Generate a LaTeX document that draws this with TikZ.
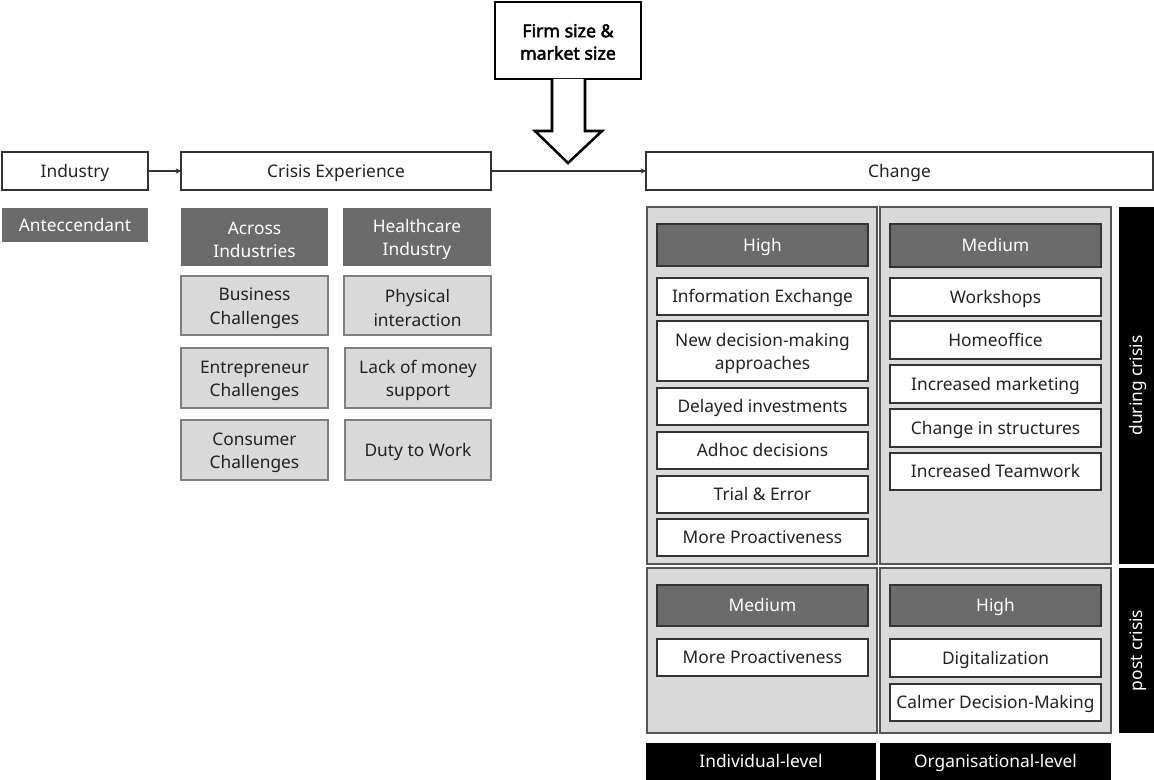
\documentclass[tikz,border=0pt]{standalone}
\usepackage{fontspec}
\setmainfont{Noto Sans}
\newfontfamily\firmfont[FakeBold=2.5]{Noto Sans}
\usetikzlibrary{arrows.meta,calc}
\definecolor{dgray}{HTML}{6B6B6B}
\definecolor{lgray}{HTML}{D9D9D9}
\definecolor{bgray}{HTML}{7F7F7F}
\definecolor{pgray}{HTML}{555555}
\definecolor{txt}{HTML}{222222}
\definecolor{edge}{HTML}{333333}
\newcommand\tp{\rule{0pt}{13.6pt}}
\newcommand\bx[7]{%
  \pgfmathsetmacro\cx{(#3+#5)/2}\pgfmathsetmacro\cy{(#4+#6)/2}%
  \pgfmathsetmacro\ww{(#5-#3)*0.75}\pgfmathsetmacro\hh{(#6-#4)*0.75}%
  \node[#2, minimum width=\ww pt, minimum height=\hh pt] (#1) at (\cx,\cy) {#7};}
\begin{document}
\begin{tikzpicture}[x=0.75pt,y=-0.75pt,
  every node/.style={inner sep=0pt,outer sep=0pt,align=center,font=\fontsize{13}{17.3}\selectfont,text=txt,
    text height=11pt,text depth=1.7pt},
  ml/.style={text height={},text depth={}},
  whitebox/.style={draw=edge,fill=white,line width=1.1pt,rectangle},
  darkbox/.style={draw=edge,fill=dgray,line width=1pt,text=white,rectangle},
  antebox/.style={fill=dgray,text=white,rectangle},
  lightbox/.style={draw=bgray,fill=lgray,line width=1.1pt,rectangle},
  panel/.style={draw=pgray,fill=lgray,line width=1.1pt,rectangle},
  blackbar/.style={fill=black,text=white,rectangle},
  firmbox/.style={draw=black,fill=white,line width=1.9pt,rectangle,font=\fontsize{13.3}{16.8}\firmfont,text=black,ml},
  conn/.style={draw=edge,line width=0.8pt,-{Stealth[length=4pt,width=4pt]}}]
\useasboundingbox (0,0) rectangle (1154,780);
% top row
\bx{industry}{whitebox}{2}{152}{148}{190}{Industry}
\bx{crisis}{whitebox}{181}{152}{491}{190}{Crisis Experience}
\bx{change}{whitebox}{646}{152}{1153}{190}{Change}
\bx{firm}{firmbox}{495}{2}{641}{79}{\rule{0pt}{12pt}Firm size \&\\market size}
\draw[conn] (industry.east) -- (crisis.west);
\draw[conn] (crisis.east) -- (change.west);
% hollow arrow
\draw[line width=1.9pt,fill=white,line join=miter]
  ($(firm.south)+(-16,0)$) -- ++(0,52) -- ++(-17,0) -- ($(firm.south)+(0,84)$)
  -- ($(firm.south)+(34,52)$) -- ($(firm.south)+(17,52)$) -- ($(firm.south)+(17,0)$);
% left
\bx{ante}{antebox}{2}{208}{148}{242}{Anteccendant}
\bx{across}{antebox,ml}{181}{208}{328}{266}{\tp Across\\Industries}
\bx{health}{antebox,ml}{343}{208}{491}{266}{\tp Healthcare\\Industry}
\bx{bus}{lightbox,ml}{181}{276}{328}{335}{\tp Business\\Challenges}
\bx{phys}{lightbox,ml}{344}{276}{491}{335}{\tp Physical\\interaction}
\bx{entr}{lightbox,ml}{181}{348}{328}{408}{\tp Entrepreneur\\Challenges}
\bx{lack}{lightbox,ml}{345}{348}{491}{408}{\tp Lack of money\\support}
\bx{cons}{lightbox,ml}{181}{420}{328}{480}{\tp Consumer\\Challenges}
\bx{duty}{lightbox}{345}{420}{491}{480}{Duty to Work}
% panels
\bx{ptl}{panel}{647}{207}{877}{564}{}
\bx{ptr}{panel}{880}{207}{1111}{564}{}
\bx{pbl}{panel}{647}{568}{877}{733}{}
\bx{pbr}{panel}{880}{568}{1111}{733}{}
\bx{during}{blackbar}{1119}{207}{1154}{564}{}
\node[rotate=90,text=white] at (during.center) {during crisis};
\bx{post}{blackbar}{1119}{568}{1154}{733}{}
\node[rotate=90,text=white] at (post.center) {post crisis};
\bx{indiv}{blackbar}{646}{743}{876}{780}{Individual-level}
\bx{organ}{blackbar}{880}{743}{1111}{780}{Organisational-level}
% TL
\bx{tlh}{darkbox}{657}{224}{868}{266}{High}
\bx{tl1}{whitebox}{657}{278}{868}{315}{Information Exchange}
\bx{tl2}{whitebox,ml}{657}{321}{868}{381}{\tp New decision-making\\approaches}
\bx{tl3}{whitebox}{657}{388}{868}{425}{Delayed investments}
\bx{tl4}{whitebox}{657}{432}{868}{469}{Adhoc decisions}
\bx{tl5}{whitebox}{657}{476}{868}{513}{Trial \& Error}
\bx{tl6}{whitebox}{657}{519}{868}{556}{More Proactiveness}
% TR
\bx{trh}{darkbox}{890}{224}{1101}{267}{Medium}
\bx{tr1}{whitebox}{890}{278}{1101}{316}{Workshops}
\bx{tr2}{whitebox}{890}{321}{1101}{359}{Homeoffice}
\bx{tr3}{whitebox}{890}{365}{1101}{403}{Increased marketing}
\bx{tr4}{whitebox}{890}{409}{1101}{447}{Change in structures}
\bx{tr5}{whitebox}{890}{453}{1101}{490}{Increased Teamwork}
% BL
\bx{blh}{darkbox}{657}{585}{868}{626}{Medium}
\bx{bl1}{whitebox}{657}{639}{868}{676}{More Proactiveness}
% BR
\bx{brh}{darkbox}{890}{585}{1101}{626}{High}
\bx{br1}{whitebox}{890}{639}{1101}{677}{Digitalization}
\bx{br2}{whitebox}{890}{684}{1101}{721}{Calmer Decision-Making}
\end{tikzpicture}
\end{document}
